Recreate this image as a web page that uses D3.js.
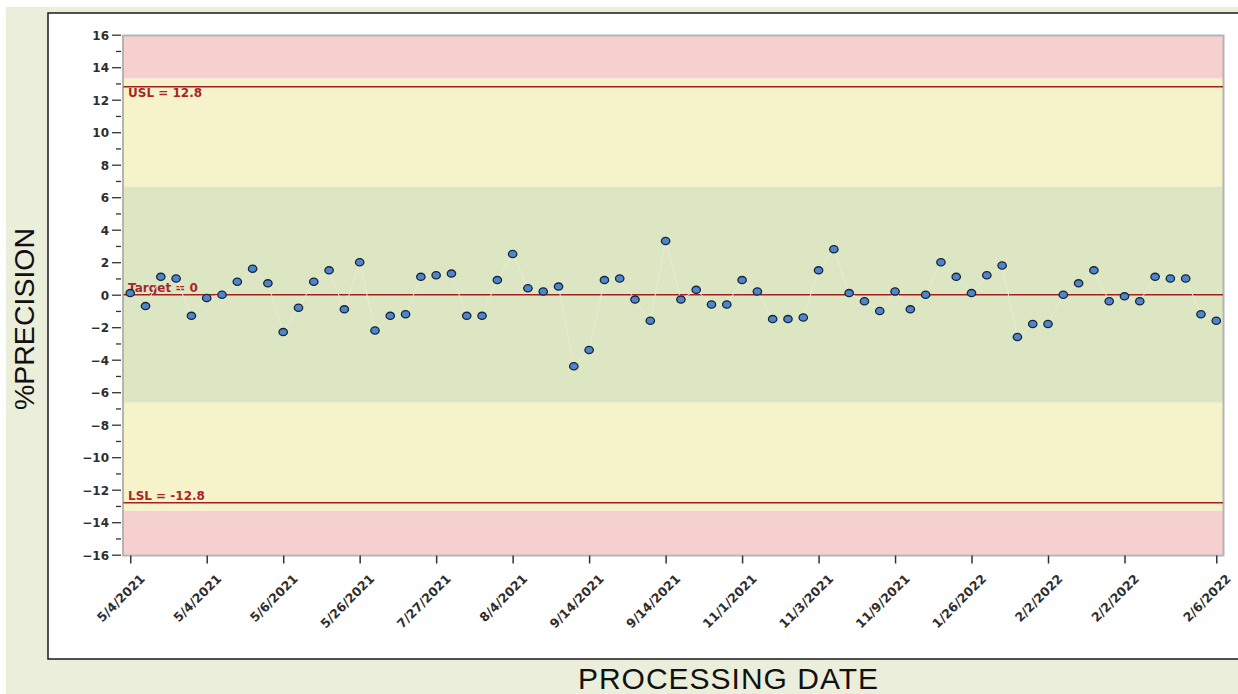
<!DOCTYPE html>
<html>
<head>
<meta charset="utf-8">
<script src="https://cdn.jsdelivr.net/npm/d3@7"></script>
<style>
  html, body { margin: 0; padding: 0; background: #ffffff; }
  svg { display: block; }
</style>
</head>
<body>
<svg id="chart" width="1238" height="694"></svg>
<script>
// ---- data ----
const pointIds = d3.range(1, 73); // 72 processing runs, in order
const precisionValues = [
  0.1, -0.7, 1.1, 1.0, -1.3, -0.2, 0.0, 0.8, 1.6, 0.7,
  -2.3, -0.8, 0.8, 1.5, -0.9, 2.0, -2.2, -1.3, -1.2, 1.1,
  1.2, 1.3, -1.3, -1.3, 0.9, 2.5, 0.4, 0.2, 0.5, -4.4,
  -3.4, 0.9, 1.0, -0.3, -1.6, 3.3, -0.3, 0.3, -0.6, -0.6,
  0.9, 0.2, -1.5, -1.5, -1.4, 1.5, 2.8, 0.1, -0.4, -1.0,
  0.2, -0.9, 0.0, 2.0, 1.1, 0.1, 1.2, 1.8, -2.6, -1.8,
  -1.8, 0.0, 0.7, 1.5, -0.4, -0.1, -0.4, 1.1, 1.0, 1.0,
  -1.2, -1.6
];
const xTickPoints = [1, 6, 11, 16, 21, 26, 31, 36, 41, 46, 51, 56, 61, 66, 72];
const xTickLabels = ["5/4/2021", "5/4/2021", "5/6/2021", "5/26/2021", "7/27/2021",
  "8/4/2021", "9/14/2021", "9/14/2021", "11/1/2021", "11/3/2021",
  "11/9/2021", "1/26/2022", "2/2/2022", "2/2/2022", "2/6/2022"];
const yMajorTicks = d3.range(-16, 17, 2);
const yMinorTicks = d3.range(-15, 16, 2);
const specLines = [
  { name: "USL", value: 12.8, label: "USL = 12.8", below: true },
  { name: "Target", value: 0, label: "Target = 0", below: false },
  { name: "LSL", value: -12.8, label: "LSL = -12.8", below: false }
];
const zoneBands = [
  { from: 13.3, to: 16, color: "#f6cfcf" },
  { from: 6.65, to: 13.3, color: "#f6f2c9" },
  { from: -6.65, to: 6.65, color: "#dce6c3" },
  { from: -13.3, to: -6.65, color: "#f6f2c9" },
  { from: -16, to: -13.3, color: "#f6cfcf" }
];

// ---- layout ----
const svg = d3.select("#chart");
const plotL = 123.5, plotR = 1223, plotT = 36, plotB = 555;
const smallFont = "DejaVu Sans, Verdana, sans-serif";

const x = d3.scalePoint().domain(pointIds).range([plotL, plotR]).padding(0.44);
const y = d3.scaleLinear().domain([-16, 16]).range([554.7, 34.7]);

// outer background
svg.append("rect").attr("x", 6).attr("y", 7).attr("width", 1238).attr("height", 700).attr("fill", "#eaeedb");
// white panel
svg.append("rect").attr("x", 48).attr("y", 13).attr("width", 1200).attr("height", 646)
  .attr("fill", "#ffffff").attr("stroke", "#1a1a1a").attr("stroke-width", 1.5);

// zone bands
svg.append("g").selectAll("rect").data(zoneBands).join("rect")
  .attr("x", plotL).attr("width", plotR - plotL)
  .attr("y", d => Math.max(plotT, y(d.to)))
  .attr("height", d => Math.min(plotB, y(d.from)) - Math.max(plotT, y(d.to)))
  .attr("fill", d => d.color);

// frame (grey)
svg.append("rect").attr("x", plotL - 0.5).attr("y", plotT - 0.5)
  .attr("width", plotR - plotL + 1).attr("height", plotB - plotT + 1)
  .attr("fill", "none").attr("stroke", "#b4b4b4").attr("stroke-width", 2);

// y axis
const yAxisX = 121;
const gy = svg.append("g").attr("transform", `translate(${yAxisX},0)`)
  .call(d3.axisLeft(y).tickValues(yMajorTicks).tickSize(9).tickPadding(3).tickFormat(d3.format("d")));
gy.select(".domain").remove();
gy.selectAll("text").attr("font-family", smallFont).attr("font-size", 12).attr("font-weight", "bold")
  .attr("fill", "#2e2e2e").attr("dy", "0.36em");
gy.selectAll("line").attr("stroke", "#333").attr("stroke-width", 1.3);

const gyMinor = svg.append("g").attr("transform", `translate(${yAxisX},0)`)
  .call(d3.axisLeft(y).tickValues(yMinorTicks).tickSize(5).tickFormat(""));
gyMinor.select(".domain").remove();
gyMinor.selectAll("line").attr("stroke", "#333").attr("stroke-width", 1.3);

// x axis
const gx = svg.append("g").attr("transform", `translate(0,${plotB + 0.5})`)
  .call(d3.axisBottom(x).tickValues(xTickPoints).tickSize(8)
    .tickFormat(d => xTickLabels[xTickPoints.indexOf(d)]));
gx.select(".domain").remove();
gx.selectAll("line").attr("stroke", "#333").attr("stroke-width", 1.5);
gx.selectAll("text")
  .attr("font-family", smallFont).attr("font-size", 12.5).attr("font-weight", "bold")
  .attr("fill", "#2e2e2e")
  .attr("text-anchor", "end")
  .attr("y", 0).attr("dy", 0)
  .attr("transform", "translate(15,24) rotate(-45)");

// spec lines
const gs = svg.append("g");
gs.selectAll("line").data(specLines).join("line")
  .attr("x1", plotL).attr("x2", plotR)
  .attr("y1", d => y(d.value)).attr("y2", d => y(d.value))
  .attr("stroke", "#a3201f").attr("stroke-width", 1.4);
gs.selectAll("text").data(specLines).join("text")
  .attr("x", plotL + 4.5)
  .attr("y", d => y(d.value) + (d.below ? 10 : -2.5))
  .attr("font-family", smallFont).attr("font-size", 12).attr("font-weight", "bold")
  .attr("fill", "#a8262a")
  .text(d => d.label);

// connecting line (faint)
const series = pointIds.map((id, i) => ({ id, v: precisionValues[i] }));
svg.append("path").datum(series)
  .attr("fill", "none").attr("stroke", "#e7edd4").attr("stroke-width", 1)
  .attr("d", d3.line().x(d => x(d.id)).y(d => y(d.v)));

// markers
svg.append("g").selectAll("ellipse").data(series).join("ellipse")
  .attr("cx", d => x(d.id)).attr("cy", d => y(d.v))
  .attr("rx", 4.2).attr("ry", 3.6)
  .attr("fill", "#4f86c9").attr("stroke", "#17243a").attr("stroke-width", 1.3);

// axis titles
svg.append("text")
  .attr("transform", `translate(34,319) rotate(-90)`)
  .attr("text-anchor", "middle")
  .attr("font-family", "Liberation Sans, Arial, sans-serif").attr("font-size", 28.5)
  .attr("fill", "#111")
  .text("%PRECISION");
svg.append("text")
  .attr("x", 728.5).attr("y", 689)
  .attr("text-anchor", "middle")
  .attr("font-family", "Liberation Sans, Arial, sans-serif").attr("font-size", 30)
  .attr("letter-spacing", 1)
  .attr("fill", "#111")
  .text("PROCESSING DATE");
</script>
</body>
</html>
